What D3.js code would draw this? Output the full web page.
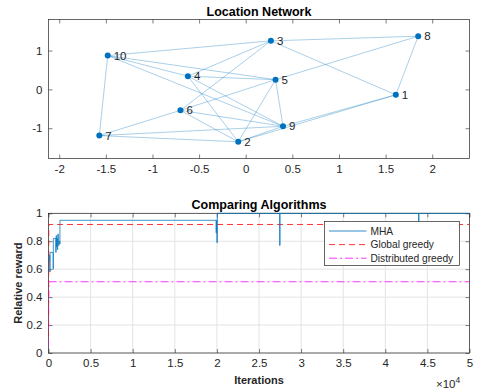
<!DOCTYPE html>
<html>
<head>
<meta charset="utf-8">
<script src="https://cdn.jsdelivr.net/npm/d3@7"></script>
<style>
  body { margin: 0; background: #fff; }
  svg { display: block; font-family: "Liberation Sans", Arial, sans-serif; }
</style>
</head>
<body>
<svg id="chart" width="477" height="392"></svg>
<script>
// Data: network nodes (index = label - 1)
const nodeLabels = [1, 2, 3, 4, 5, 6, 7, 8, 9, 10];
const nodeX = [1.61, -0.08, 0.27, -0.62, 0.32, -0.70, -1.57, 1.85, 0.40, -1.48];
const nodeY = [-0.14, -1.35, 1.25, 0.34, 0.25, -0.54, -1.19, 1.37, -0.95, 0.87];
const edges = [
  [10, 3], [10, 4], [10, 5], [10, 9], [10, 7],
  [4, 3], [4, 5], [4, 2], [4, 9],
  [6, 3], [6, 5], [6, 9], [6, 2], [6, 7],
  [7, 9], [7, 2],
  [2, 5], [2, 9], [2, 1],
  [9, 1], [9, 5],
  [5, 8], [3, 8], [3, 1], [8, 1],
];
const netXTicks = [-2, -1.5, -1, -0.5, 0, 0.5, 1, 1.5, 2];
const netYTicks = [-1, 0, 1];

// Data: algorithm comparison
const mhaIter = [0, 100, 155, 180, 550, 570, 870, 900, 960, 1000, 1050, 1100, 1200, 1250, 1340, 1360,
  19900, 19950, 20000, 20050, 27450, 27500, 43950, 44000, 50000];
const mhaValue = [0.66, 0.70, 0.58, 0.72, 0.60, 0.82, 0.72, 0.84, 0.76, 0.82, 0.74, 0.85, 0.77, 0.80, 0.78, 0.95,
  0.86, 0.95, 0.79, 1.0, 0.77, 1.0, 0.94, 1.0, 1.0];
const globalIter = [0, 20, 40, 50000];
const globalValue = [0.12, 0.6, 0.92, 0.92];
const distIter = [0, 20, 40, 50000];
const distValue = [0.05, 0.3, 0.51, 0.51];
const cmpXTicks = [0, 5000, 10000, 15000, 20000, 25000, 30000, 35000, 40000, 45000, 50000];
const cmpYTicks = [0, 0.2, 0.4, 0.6, 0.8, 1];
const legendNames = ['MHA', 'Global greedy', 'Distributed greedy'];

// Layout
const LEFT = 48.5;
const RIGHT = 469.5;
const TEXT = '#262626';
const BLUE = '#0072BD';

const svg = d3.select('#chart');
const num = d => d3.format('~g')(d).replace('−', '-');

function drawFrame(x, y, xTicks, yTicks, xFmt, grid) {
  const [x0, x1] = x.range();
  const [y0, y1] = y.range();
  const g = svg.append('g');

  if (grid) {
    g.append('g').selectAll('line').data(xTicks).join('line')
      .attr('x1', d => x(d)).attr('x2', d => x(d))
      .attr('y1', y0).attr('y2', y1)
      .attr('stroke', '#e3e3e3').attr('stroke-width', 1);
    g.append('g').selectAll('line').data(yTicks).join('line')
      .attr('x1', x0).attr('x2', x1)
      .attr('y1', d => y(d)).attr('y2', d => y(d))
      .attr('stroke', '#e3e3e3').attr('stroke-width', 1);
  }

  const axes = [
    [d3.axisBottom(x).tickValues(xTicks).tickFormat(xFmt), `translate(0,${y0})`],
    [d3.axisTop(x).tickValues(xTicks).tickFormat(''), `translate(0,${y1})`],
    [d3.axisLeft(y).tickValues(yTicks).tickFormat(num), `translate(${x0},0)`],
    [d3.axisRight(y).tickValues(yTicks).tickFormat(''), `translate(${x1},0)`],
  ];
  axes.forEach(([ax, tr]) => {
    const a = g.append('g').attr('transform', tr)
      .call(ax.tickSizeInner(-4).tickSizeOuter(0).tickPadding(6));
    a.select('.domain').remove();
    a.selectAll('line').attr('stroke', TEXT).attr('stroke-width', 0.6);
    a.selectAll('text').attr('fill', TEXT).attr('font-size', 11.5)
      .attr('font-family', '"Liberation Sans", Arial, sans-serif');
  });

  g.append('rect')
    .attr('x', x0).attr('y', y1)
    .attr('width', x1 - x0).attr('height', y0 - y1)
    .attr('fill', 'none').attr('stroke', TEXT).attr('stroke-width', 0.7);
  return g;
}

// ---------- Location Network ----------
const nx = d3.scaleLinear([-2.115, 2.4], [LEFT, RIGHT]);
const ny = d3.scaleLinear([-1.78, 1.8], [158.5, 19.5]);

drawFrame(nx, ny, netXTicks, netYTicks, num, false);

svg.append('g').selectAll('line').data(edges).join('line')
  .attr('x1', d => nx(nodeX[d[0] - 1])).attr('y1', d => ny(nodeY[d[0] - 1]))
  .attr('x2', d => nx(nodeX[d[1] - 1])).attr('y2', d => ny(nodeY[d[1] - 1]))
  .attr('stroke', BLUE).attr('stroke-opacity', 0.42).attr('stroke-width', 0.8);

const nodes = svg.append('g').selectAll('g').data(nodeLabels).join('g')
  .attr('transform', (d, i) => `translate(${nx(nodeX[i])},${ny(nodeY[i])})`);
nodes.append('circle').attr('r', 3).attr('fill', BLUE);
nodes.append('text').text(d => d)
  .attr('x', 6).attr('dy', '0.35em')
  .attr('font-size', 11.5).attr('fill', TEXT);

svg.append('text').text('Location Network')
  .attr('x', 259).attr('y', 16)
  .attr('text-anchor', 'middle').attr('font-weight', 'bold')
  .attr('font-size', 12.5).attr('fill', '#000');

// ---------- Comparing Algorithms ----------
const cx = d3.scaleLinear([0, 50000], [LEFT, RIGHT]);
const cy = d3.scaleLinear([0, 1], [353, 213.3]);

drawFrame(cx, cy, cmpXTicks, cmpYTicks, d => num(d / 10000), true);

svg.append('clipPath').attr('id', 'cmpclip').append('rect')
  .attr('x', LEFT).attr('y', 212).attr('width', RIGHT - LEFT).attr('height', 142);

const plot = svg.append('g').attr('clip-path', 'url(#cmpclip)');

const stepLine = d3.line().curve(d3.curveStepAfter);
const plainLine = d3.line();

plot.append('path')
  .attr('d', plainLine(distIter.map((t, i) => [cx(t), cy(distValue[i])])))
  .attr('fill', 'none').attr('stroke', '#FF00FF').attr('stroke-width', 1)
  .attr('stroke-opacity', 0.8).attr('stroke-dasharray', '8,3,2,3');

plot.append('path')
  .attr('d', plainLine(globalIter.map((t, i) => [cx(t), cy(globalValue[i])])))
  .attr('fill', 'none').attr('stroke', '#FF0000').attr('stroke-width', 1)
  .attr('stroke-opacity', 0.8).attr('stroke-dasharray', '6,4');

plot.append('path')
  .attr('d', stepLine(mhaIter.map((t, i) => [cx(t), cy(mhaValue[i])])))
  .attr('fill', 'none').attr('stroke', BLUE).attr('stroke-width', 1)
  .attr('stroke-opacity', 0.75);

svg.append('text').text('Comparing Algorithms')
  .attr('x', 259).attr('y', 209)
  .attr('text-anchor', 'middle').attr('font-weight', 'bold')
  .attr('font-size', 12.5).attr('fill', '#000');

svg.append('text').text('Iterations')
  .attr('x', 259).attr('y', 384)
  .attr('text-anchor', 'middle').attr('font-weight', 'bold')
  .attr('font-size', 11).attr('fill', TEXT);

svg.append('text').text('Relative reward')
  .attr('transform', `translate(22,${cy(0.5)}) rotate(-90)`)
  .attr('text-anchor', 'middle').attr('font-weight', 'bold')
  .attr('font-size', 11).attr('fill', TEXT);

const expo = svg.append('text').attr('x', 436).attr('y', 388)
  .attr('font-size', 11.5).attr('fill', TEXT);
expo.append('tspan').text('×10');
expo.append('tspan').text('4').attr('dy', -5).attr('font-size', 8.5);

// Legend
const legend = svg.append('g').attr('transform', 'translate(324.5,221.5)');
legend.append('rect').attr('width', 135).attr('height', 44)
  .attr('fill', '#fff').attr('stroke', TEXT).attr('stroke-width', 0.7);
const legendStyles = [
  { color: BLUE, dash: null },
  { color: '#FF0000', dash: '6,4' },
  { color: '#FF00FF', dash: '8,3,2,3' },
];
legendNames.forEach((name, i) => {
  const row = legend.append('g').attr('transform', `translate(0,${9.5 + i * 13.6})`);
  row.append('line').attr('x1', 4.5).attr('x2', 42)
    .attr('stroke', legendStyles[i].color).attr('stroke-width', 1)
    .attr('stroke-opacity', 0.8)
    .attr('stroke-dasharray', legendStyles[i].dash);
  row.append('text').text(name).attr('x', 46).attr('dy', '0.35em')
    .attr('font-size', 10.2).attr('fill', TEXT);
});
</script>
</body>
</html>
